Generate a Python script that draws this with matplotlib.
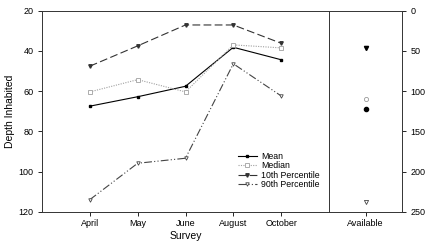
import matplotlib
matplotlib.use("Agg")
import matplotlib.pyplot as plt

plt.rcParams['font.family'] = ['Liberation Sans', 'DejaVu Sans']

months = ["April", "May", "June", "August", "October"]
mean = [67.5, 62.8, 57.6, 38.2, 44.4]
median = [60.4, 54.3, 60.4, 37.0, 38.5]
p10 = [47.6, 37.5, 27.1, 27.1, 36.2]
p90 = [114.0, 95.9, 93.4, 46.4, 62.4]

avail_label = ["Available"]
avail_mean = [122]
avail_median = [110]
avail_p10 = [47]
avail_p90 = [238]

fig = plt.figure(figsize=(4.25, 2.43), dpi=100)
ax = fig.add_axes([42/425, 31.3/243, 287/425, 201/243])
ax2 = fig.add_axes([329/425, 31.3/243, 73.3/425, 201/243])

x = list(range(1, len(months) + 1))
ax.plot(x, mean, color='black', lw=0.8, ls='-', marker='s', ms=2, label='Mean')
ax.plot(x, median, color='#a0a0a0', lw=0.8, ls=(0, (1, 1.2)), marker='s', ms=2.2,
        mfc='white', mec='#a0a0a0', mew=0.6, label='Median')
ax.plot(x, p10, color='#333333', lw=0.8, ls=(0, (7, 3)), marker='v', ms=2.5, label='10th Percentile')
ax.plot(x, p90, color='#444444', lw=0.8, ls=(0, (7, 2, 1, 2, 1, 2)), marker='v', ms=2.5,
        mfc='white', mec='#444444', mew=0.6, label='90th Percentile')

ax.set_xlim(0, 6)
ax.set_ylim(120, 20)
ax.set_xticks(x)
ax.set_xticklabels(months)
ax.set_yticks([20, 40, 60, 80, 100, 120])
ax.tick_params(labelsize=6.5, length=3, width=0.6, direction='out', pad=3)
ax.tick_params(axis='x', pad=2.5)
ax.set_ylabel("Depth Inhabited", fontsize=7.5, labelpad=3)
ax.set_xlabel("Survey", fontsize=7.5, labelpad=2)
for s in ax.spines.values():
    s.set_linewidth(0.7)
    s.set_color('#333333')

ax.legend(loc='upper left', bbox_to_anchor=(0.67, 0.315), fontsize=6.3, frameon=False,
          handlelength=2.2, handletextpad=0.5, labelspacing=0.05, borderaxespad=0)

ax2.plot([1], avail_p10, marker='v', color='black', ms=3, ls='none')
ax2.plot([1], avail_median, marker='o', mfc='white', mec='#999999', ms=3, ls='none', mew=0.6)
ax2.plot([1], avail_mean, marker='o', color='black', ms=3, ls='none')
ax2.plot([1], avail_p90, marker='v', mfc='white', mec='#444444', ms=3, ls='none', mew=0.6)
ax2.set_xlim(0, 2)
ax2.set_ylim(250, 0)
ax2.set_xticks([1])
ax2.set_xticklabels(avail_label)
ax2.set_yticks([0, 50, 100, 150, 200, 250])
ax2.yaxis.tick_right()
ax2.tick_params(labelsize=6.5, length=3, width=0.6, direction='out', pad=3)
ax2.tick_params(axis='x', pad=2.5)
for s in ax2.spines.values():
    s.set_linewidth(0.7)
    s.set_color('#333333')

fig.savefig("out.png", dpi=100)
